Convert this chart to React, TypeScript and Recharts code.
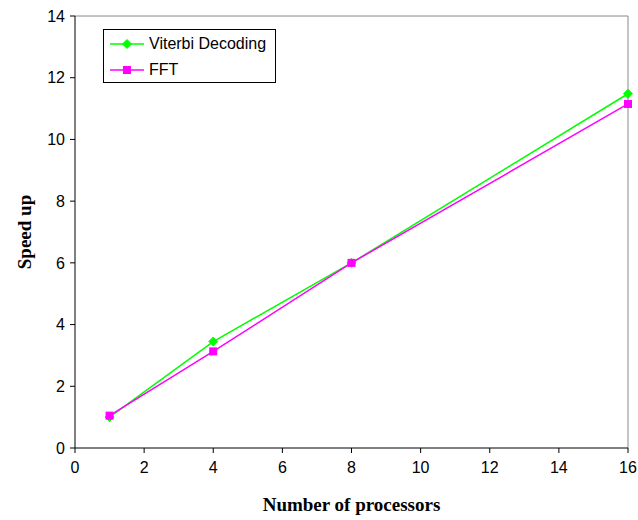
import React from 'react';
import {
  LineChart,
  Line,
  XAxis,
  YAxis,
  ReferenceLine,
  Label
} from 'recharts';

// values
const processors = [1, 4, 8, 16];
const viterbiSpeedup = [1.0, 3.45, 6.0, 11.48];
const fftSpeedup = [1.05, 3.13, 6.0, 11.15];
const xTicks = [0, 2, 4, 6, 8, 10, 12, 14, 16];
const yTicks = [0, 2, 4, 6, 8, 10, 12, 14];
const seriesNames = ['Viterbi Decoding', 'FFT'];

const GREEN = '#00ff00';
const MAGENTA = '#ff00ff';

const data = processors.map((p, i) => ({
  p,
  viterbi: viterbiSpeedup[i],
  fft: fftSpeedup[i]
}));

const Diamond = (props: any) => {
  const { cx, cy } = props;
  if (cx == null || cy == null) return null;
  return (
    <path
      d={`M${cx},${cy - 4.5} L${cx + 4.5},${cy} L${cx},${cy + 4.5} L${cx - 4.5},${cy} Z`}
      fill={GREEN}
      stroke={GREEN}
    />
  );
};

const Square = (props: any) => {
  const { cx, cy } = props;
  if (cx == null || cy == null) return null;
  return <rect x={cx - 3.5} y={cy - 3.5} width={7} height={7} fill={MAGENTA} stroke={MAGENTA} />;
};

// legend drawn as a plain box over the plot, like the original
const LegendBox = () => (
  <div
    style={{
      position: 'absolute',
      left: 103,
      top: 29,
      width: 173,
      height: 54,
      border: '1px solid #000',
      background: '#fff',
      fontFamily: 'Liberation Sans, Arial, sans-serif',
      fontSize: 16,
      color: '#000',
      boxSizing: 'border-box',
      paddingTop: 1
    }}
  >
    {seriesNames.map((name, i) => (
      <div key={name} style={{ display: 'flex', alignItems: 'center', height: 26 }}>
        <svg width={39} height={14} style={{ marginLeft: 6 }}>
          <line x1={0} y1={7} x2={34} y2={7} stroke={i === 0 ? GREEN : MAGENTA} strokeWidth={1.5} />
          {i === 0 ? <Diamond cx={17} cy={7} /> : <Square cx={17} cy={7} />}
        </svg>
        <span>{name}</span>
      </div>
    ))}
  </div>
);

const tickStyle = { fontFamily: 'Liberation Sans, Arial, sans-serif', fontSize: 16, fill: '#000' };
const titleStyle = {
  fontFamily: 'Liberation Serif, Times New Roman, serif',
  fontSize: 19,
  fontWeight: 'bold' as const,
  fill: '#000'
};

export default function App() {
  return (
    <div style={{ position: 'absolute', left: 0, top: 0, width: 638, height: 520, background: '#fff' }}>
      <LineChart
        width={638}
        height={520}
        data={data}
        margin={{ top: 16, right: 10, bottom: 12, left: 15 }}
      >
        <XAxis
          dataKey="p"
          type="number"
          domain={[0, 16]}
          ticks={xTicks}
          tick={tickStyle}
          tickSize={5}
          tickMargin={9}
          stroke="#000"
          height={60}
        >
          <Label value="Number of processors" position="insideBottom" offset={-3} style={titleStyle} />
        </XAxis>
        <YAxis
          type="number"
          domain={[0, 14]}
          ticks={yTicks}
          tick={tickStyle}
          tickSize={5}
          tickMargin={5}
          stroke="#000"
          width={60}
        >
          <Label value="Speed up" angle={-90} position="insideLeft" offset={9} style={{ ...titleStyle, textAnchor: 'middle' }} />
        </YAxis>
        <ReferenceLine y={14} stroke="#888" />
        <ReferenceLine x={16} stroke="#888" />
        <Line
          dataKey="viterbi"
          name={seriesNames[0]}
          stroke={GREEN}
          strokeWidth={1.5}
          dot={<Diamond />}
          activeDot={false}
          isAnimationActive={false}
        />
        <Line
          dataKey="fft"
          name={seriesNames[1]}
          stroke={MAGENTA}
          strokeWidth={1.5}
          dot={<Square />}
          activeDot={false}
          isAnimationActive={false}
        />
      </LineChart>
      <LegendBox />
    </div>
  );
}
